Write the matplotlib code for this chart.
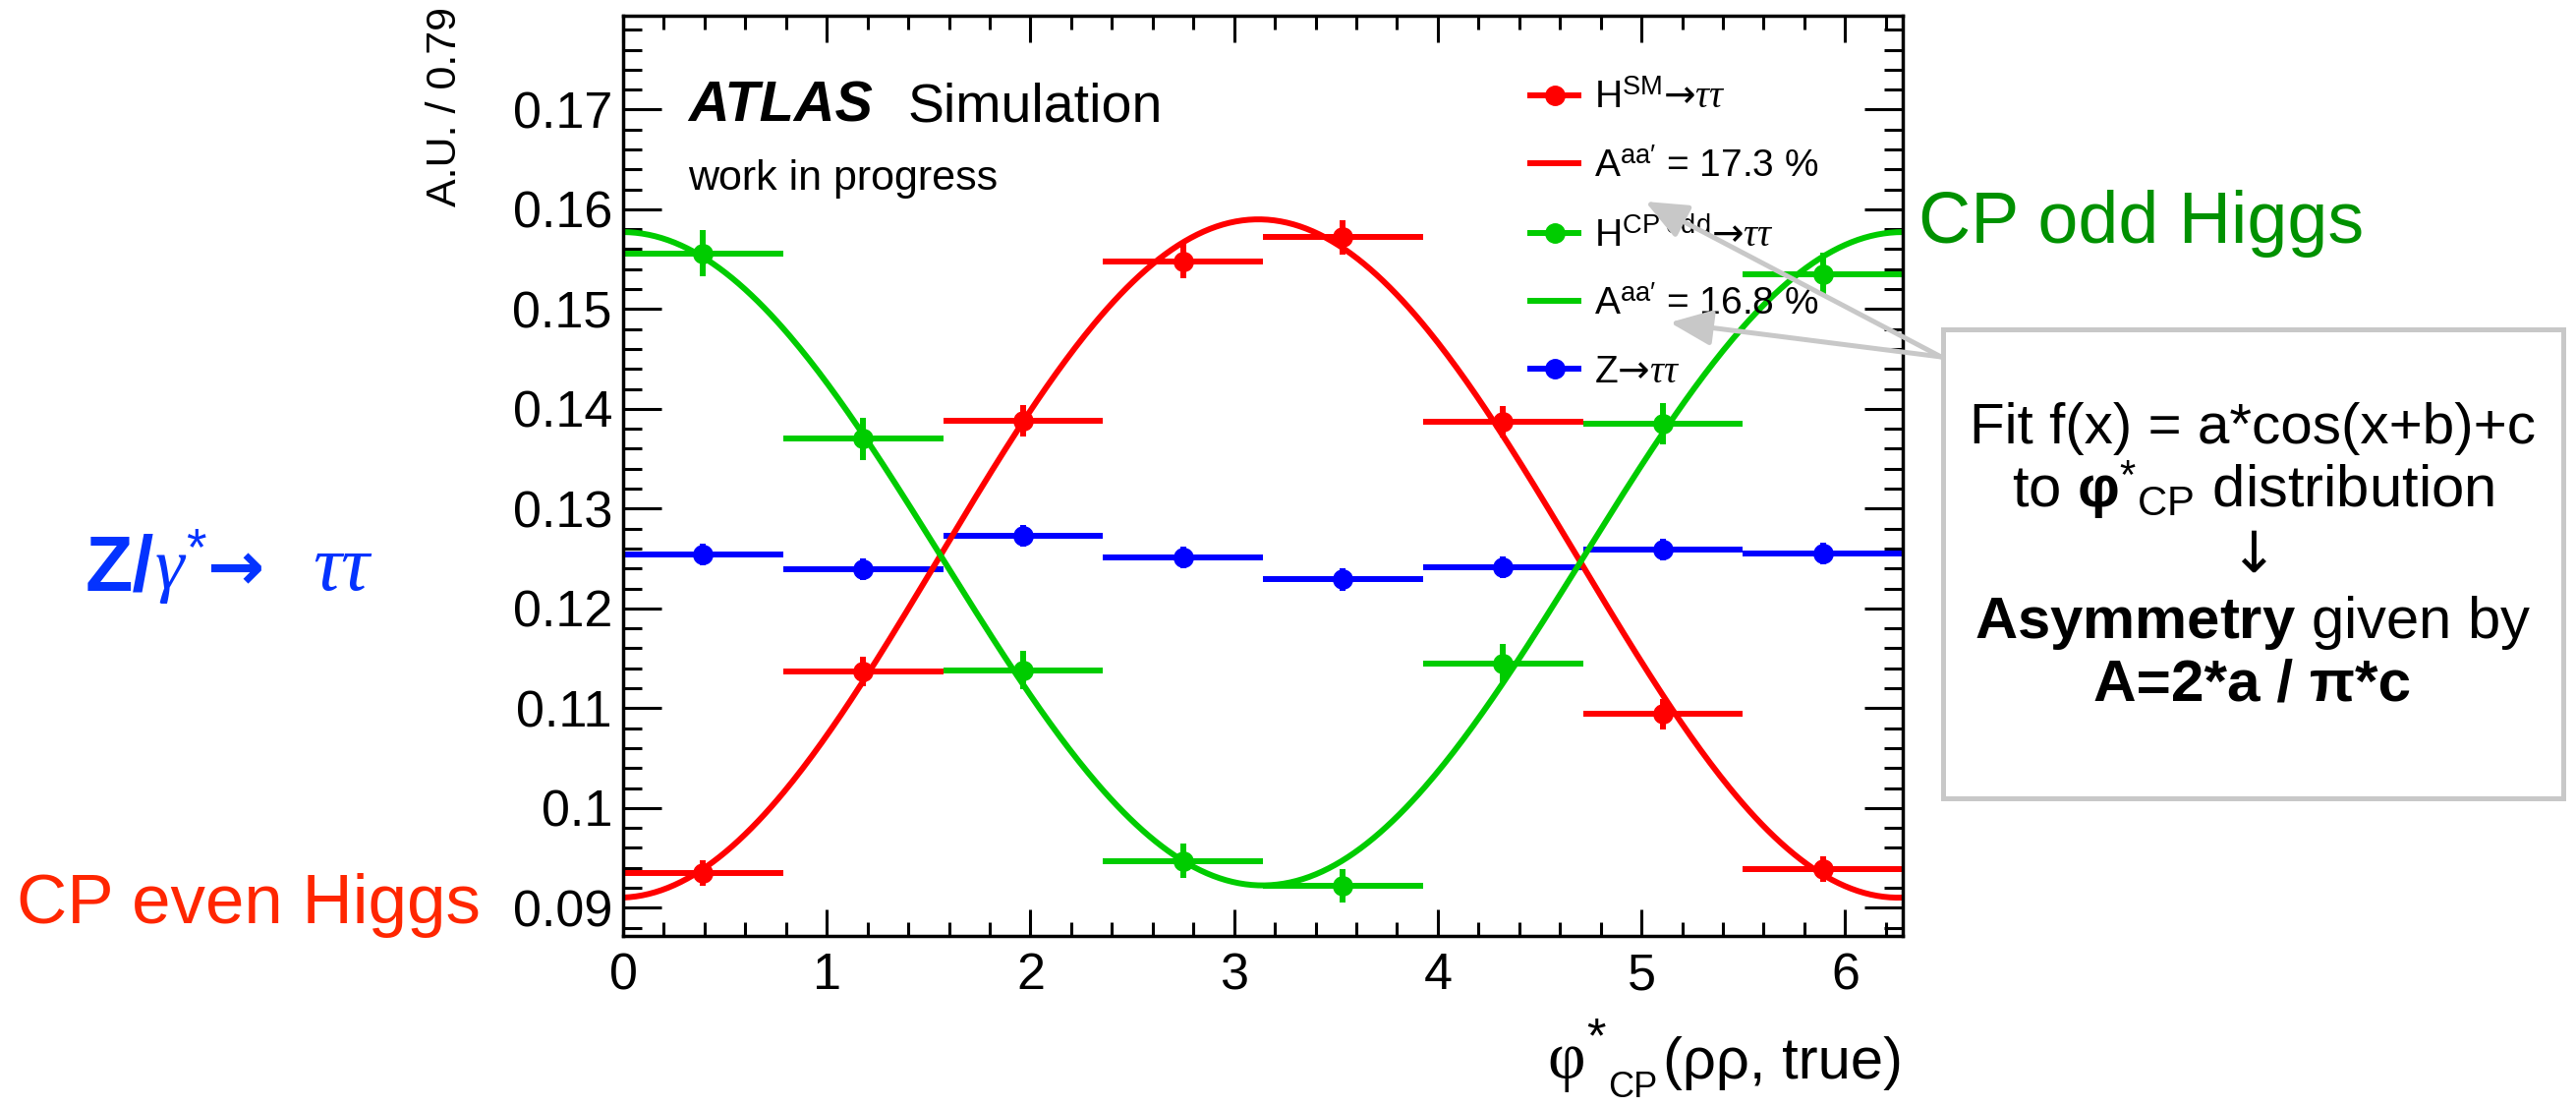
import numpy as np
import matplotlib

matplotlib.use("Agg")
import matplotlib.pyplot as plt
from matplotlib.lines import Line2D
from matplotlib.patches import FancyArrowPatch, Rectangle
from matplotlib.ticker import MultipleLocator, FuncFormatter

plt.rcParams["font.family"] = ["Liberation Sans", "DejaVu Sans"]
plt.rcParams["mathtext.fontset"] = "custom"
plt.rcParams["mathtext.rm"] = "Liberation Sans"
plt.rcParams["mathtext.sf"] = "DejaVu Sans"
plt.rcParams["mathtext.bf"] = "Liberation Sans:bold"
plt.rcParams["mathtext.it"] = "Liberation Serif:italic"

# 8 bins over [0, 2pi]
bin_edges = np.linspace(0, 2 * np.pi, 9)
bin_centers = 0.5 * (bin_edges[:-1] + bin_edges[1:])
half_width = 0.5 * np.diff(bin_edges)

h_sm = [0.0935, 0.1137, 0.1388, 0.1548, 0.1572, 0.1387, 0.1094, 0.0939]
h_sm_err = [0.0013, 0.0015, 0.0016, 0.0017, 0.0017, 0.0016, 0.0015, 0.0013]
h_odd = [0.1556, 0.1370, 0.1138, 0.0947, 0.0922, 0.1145, 0.1385, 0.1535]
h_odd_err = [0.0023, 0.0021, 0.0019, 0.0017, 0.0017, 0.0019, 0.0021, 0.0022]
z_tt = [0.1254, 0.1239, 0.1273, 0.1251, 0.1229, 0.1241, 0.1259, 0.1255]
z_tt_err = [0.0011, 0.0011, 0.0011, 0.0011, 0.0011, 0.0011, 0.0011, 0.0011]

legend_labels = [
    r"H$^{\mathrm{SM}}\mathsf{→}\tau\tau$",
    r"A$^{\mathrm{aa}\prime}$ = 17.3 %",
    r"H$^{\mathrm{CP\ odd}}\mathsf{→}\tau\tau$",
    r"A$^{\mathrm{aa}\prime}$ = 16.8 %",
    r"Z$\mathsf{→}\tau\tau$",
]

RED, GREEN, BLUE = "#ff0000", "#00cc00", "#0000ff"
MS, LW = 14, 4.3


def fit_cos(x, y):
    # f(x) = a*cos(x+b)+c, linear in (cos x, sin x, 1)
    A = np.column_stack([np.cos(x), np.sin(x), np.ones_like(x)])
    p, *_ = np.linalg.lstsq(A, np.asarray(y), rcond=None)
    return lambda t: p[0] * np.cos(t) + p[1] * np.sin(t) + p[2]


W, H = 2621, 1126
fig = plt.figure(figsize=(W / 100, H / 100), dpi=100)
renderer = fig.canvas.get_renderer()
ax = fig.add_axes([634 / W, 1 - 951.7 / H, 1302 / W, 935.7 / H])

xs = np.linspace(0, 2 * np.pi, 400)
for vals, errs, col, fit in [
    (z_tt, z_tt_err, BLUE, False),
    (h_sm, h_sm_err, RED, True),
    (h_odd, h_odd_err, GREEN, True),
]:
    ax.errorbar(bin_centers, vals, xerr=half_width, yerr=errs, fmt="o",
                color=col, ms=MS, elinewidth=LW, capsize=0)
    if fit:
        f = fit_cos(bin_centers, vals)
        ax.plot(xs, f(xs), color=col, lw=LW)

ax.set_xlim(0, 2 * np.pi)
ax.set_ylim(0.0872, 0.1794)
ax.xaxis.set_major_locator(MultipleLocator(1))
ax.xaxis.set_minor_locator(MultipleLocator(0.2))
ax.yaxis.set_major_locator(MultipleLocator(0.01))
ax.yaxis.set_minor_locator(MultipleLocator(0.002))
ax.yaxis.set_major_formatter(FuncFormatter(lambda v, _: f"{v:g}"))
ax.tick_params(which="both", direction="in", top=True, right=True,
               width=2.2, labelsize=37.5)
ax.tick_params(axis="x", which="major", length=19.5, pad=12)
ax.tick_params(axis="x", which="minor", length=10)
ax.tick_params(axis="y", which="major", length=28, pad=8)
ax.tick_params(axis="y", which="minor", length=14)
for s in ax.spines.values():
    s.set_linewidth(2.5)

ax.set_ylabel("A.U. / 0.79", fontsize=31, loc="top")
ax.yaxis.set_label_coords(-0.124, 1.01)


def place(x_px, base_px, pieces, color="black", gap=0):
    # lay text pieces left to right; each has its own baseline (figure pixels)
    for txt, dy, kw in pieces:
        t = fig.text(x_px / W, 1 - (base_px + dy) / H, txt, va="baseline",
                     color=color, **kw)
        x_px += t.get_window_extent(renderer).width + gap


# x axis title: phi*_CP (rho rho, true)
fig.text(1936 / W, 1 - 1097 / H, "(ρρ, true)", ha="right", va="baseline",
         fontsize=43)
place(1574, 1097, [
    ("φ", 0, dict(fontsize=48, fontfamily="Liberation Serif")),
    ("*", -27, dict(fontsize=36)),
    ("CP", 19, dict(fontsize=26)),
], gap=2)

ax.text(0.0507, 0.8856, "ATLAS", transform=ax.transAxes, fontsize=41.5,
        fontweight="bold", fontstyle="italic")
ax.text(0.2227, 0.8856, "Simulation", transform=ax.transAxes, fontsize=40)
ax.text(0.0507, 0.8108, "work in progress", transform=ax.transAxes, fontsize=31)

handles = [
    Line2D([0], [0], color=RED, marker="o", ms=MS, lw=LW),
    Line2D([0], [0], color=RED, lw=LW),
    Line2D([0], [0], color=GREEN, marker="o", ms=MS, lw=LW),
    Line2D([0], [0], color=GREEN, lw=LW),
    Line2D([0], [0], color=BLUE, marker="o", ms=MS, lw=LW),
]
ax.legend(handles, legend_labels, loc="upper left", bbox_to_anchor=(0.709, 0.9295),
          frameon=False, fontsize=28, handlelength=1.26, handletextpad=0.4,
          labelspacing=0.85, borderpad=0, borderaxespad=0)

# side annotations
fig.text(1952 / W, 1 - 228 / H, "CP odd Higgs", color="#009100", fontsize=53,
         va="center")
fig.text(17 / W, 1 - 921 / H, "CP even Higgs", color="#ff2600", fontsize=51,
         va="center")
place(87, 600, [
    ("Z/", 0, dict(fontsize=57, fontweight="bold")),
    (r"$\gamma^{*}$", 0, dict(fontsize=54)),
    ("→  ", 0, dict(fontsize=50, fontfamily="DejaVu Sans", fontweight="bold")),
    (r"$\tau\tau$", 0, dict(fontsize=58)),
], color="#0433ff")

# explanation box
fig.add_artist(Rectangle((1977 / W, 1 - 812 / H), 631 / W, 477 / H,
                         transform=fig.transFigure, facecolor="white",
                         edgecolor="#c8c8c8", lw=3.6))
cx = 2292 / W
box_lines = [
    ("Fit f(x) = a*cos(x+b)+c", 451, {}),
    (r"to $\mathbf{φ}^{*}$$_{\mathrm{CP}}$ distribution", 517, dict(fontsize=43)),
    ("↓", 582, dict(fontfamily="DejaVu Sans")),
    (r"$\mathbf{Asymmetry}$ given by", 649, dict(fontsize=43)),
    ("A=2*a / π*c", 713, dict(fontweight="bold", fontsize=43.5)),
]
for txt, yb, kw in box_lines:
    kw = {"fontsize": 42, **kw}
    fig.text(cx, 1 - yb / H, txt, ha="center", va="baseline", **kw)

start = (1975 / W, 1 - 363 / H)
for tip in [(1674 / W, 1 - 205 / H), (1699 / W, 1 - 328 / H)]:
    fig.add_artist(FancyArrowPatch(start, tip, transform=fig.transFigure,
                                   arrowstyle="-|>,head_length=1.3,head_width=0.55",
                                   mutation_scale=20, color="#c8c8c8", lw=3.6,
                                   shrinkA=0, shrinkB=0, zorder=10))

fig.savefig("out.png", dpi=100)
